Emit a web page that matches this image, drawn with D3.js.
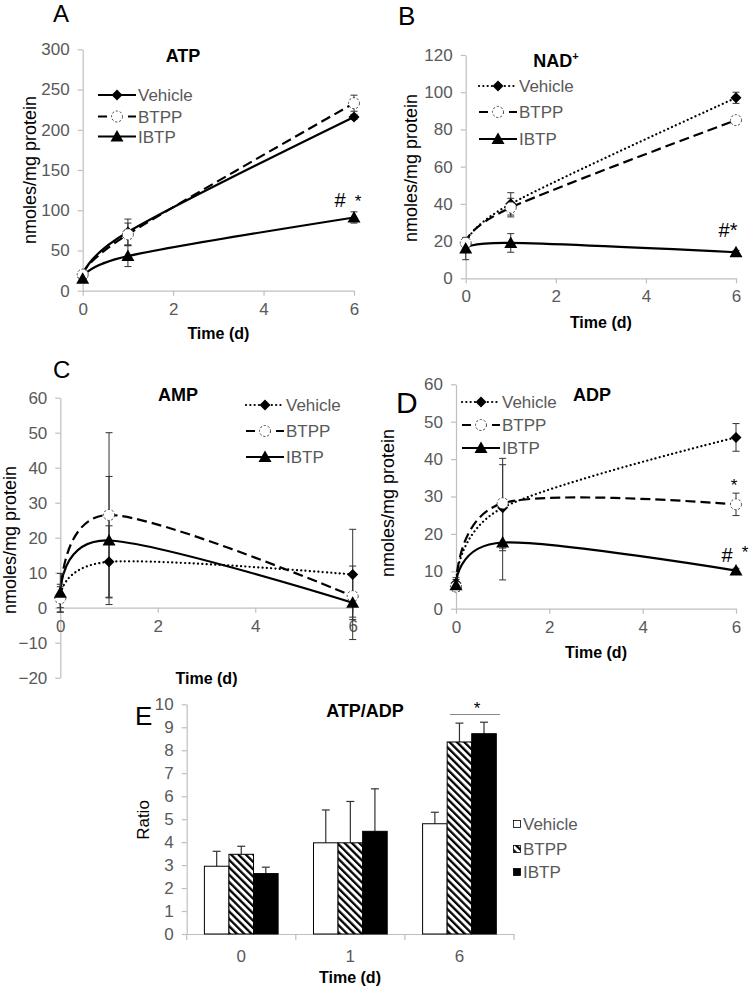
<!DOCTYPE html>
<html><head><meta charset="utf-8">
<script src="https://cdn.jsdelivr.net/npm/d3@7"></script>
<style>
body{margin:0;background:#fff}
svg{display:block}
text{font-family:"Liberation Sans",Arial,sans-serif}
</style>
</head><body>
<svg id="c" width="750" height="988"></svg>
<script>
// ---------------- data ----------------
const days = [0, 1, 6];
const seriesNames = ["Vehicle", "BTPP", "IBTP"];

const atpVehicle = [17, 73, 216],   atpVehicleErr = [3, 16, 3];
const atpBTPP    = [20, 70, 233],   atpBTPPErr    = [5, 14, 10];
const atpIBTP    = [15, 43, 91],    atpIBTPErr    = [2, 13, 7];

const nadVehicle = [18, 40, 97],    nadVehicleErr = [2, 6, 3];
const nadBTPP    = [19, 38, 85],    nadBTPPErr    = [2, 5, 2];
const nadIBTP    = [16, 19, 14],    nadIBTPErr    = [6, 5, 1];

const ampVehicle = [3.0, 13.1, 9.5],  ampVehicleErr = [3, 10.3, 12.9];
const ampBTPP    = [2.7, 26.5, 3.3],  ampBTPPErr    = [4, 23.5, 6];
const ampIBTP    = [4.3, 19.2, 1.4],  ampIBTPErr    = [5.5, 18.3, 10.5];

const adpVehicle = [6.8, 27.0, 45.8], adpVehicleErr = [1.5, 11.5, 3.7];
const adpBTPP    = [5.9, 28.2, 27.9], adpBTPPErr    = [1.2, 12, 3];
const adpIBTP    = [6.3, 17.7, 10.2], adpIBTPErr    = [1.5, 10, 0.6];

const ratioCategories = ["0", "1", "6"];
const ratioVehicle = [2.95, 3.97, 4.80], ratioVehicleErr = [0.65, 1.43, 0.50];
const ratioBTPP    = [3.47, 3.97, 8.36], ratioBTPPErr    = [0.35, 1.80, 0.82];
const ratioIBTP    = [2.63, 4.47, 8.72], ratioIBTPErr    = [0.28, 1.85, 0.50];

// ---------------- drawing ----------------
const svg = d3.select("#c");
const AXIS = "#bfbfbf", TICKTXT = "#595959";

const defs = svg.append("defs");
const pat = defs.append("pattern").attr("id","hatch").attr("patternUnits","userSpaceOnUse")
  .attr("width",5.2).attr("height",5.2).attr("patternTransform","rotate(-45)");
pat.append("rect").attr("width",5.2).attr("height",5.2).attr("fill","#fff");
pat.append("rect").attr("x",0).attr("width",2.3).attr("height",5.2).attr("fill","#000");

function styleAxis(sel){
  sel.select(".domain").attr("stroke",AXIS).attr("stroke-width",1.2);
  sel.selectAll(".tick line").attr("stroke",AXIS).attr("stroke-width",1.2);
  sel.selectAll(".tick text").attr("fill",TICKTXT).style("font-size","17px").style("font-family","'Liberation Sans',Arial,sans-serif");
}

function marker(g, type, cx, cy){
  if(type==="diamond"){
    g.append("path").attr("d",`M${cx},${cy-5.5}L${cx+5.5},${cy}L${cx},${cy+5.5}L${cx-5.5},${cy}Z`).attr("fill","#000");
  } else if(type==="triangle"){
    g.append("path").attr("d",`M${cx},${cy-6.5}L${cx+6.5},${cy+5}L${cx-6.5},${cy+5}Z`).attr("fill","#000");
  } else {
    g.append("circle").attr("cx",cx).attr("cy",cy).attr("r",5.5).attr("fill","#fff")
      .attr("stroke","#444").attr("stroke-width",1).attr("stroke-dasharray","2.2,1.8");
  }
}

const dashes = {solid:null, dashed:"10,5", dotted:"0.1,4.2"};
const markerTypes = ["diamond","circle","triangle"];

function linePanel(p){
  const g = svg.append("g");
  const x = d3.scaleLinear().domain([0,6]).range([p.x0,p.x1]);
  const y = d3.scaleLinear().domain(p.yDomain).range([p.yBot,p.yTop]);
  const ya = d3.axisLeft(y).tickValues(d3.range(p.yDomain[0], p.yDomain[1]+0.001, p.yStep))
     .tickSize(5).tickSizeOuter(0).tickPadding(8).tickFormat(d3.format("d"));
  g.append("g").attr("transform",`translate(${p.x0},0)`).call(ya).call(styleAxis);
  const xa = d3.axisBottom(x).tickValues([0,2,4,6]).tickSize(5).tickSizeOuter(0).tickPadding(7).tickFormat(d3.format("d"));
  g.append("g").attr("transform",`translate(0,${y(0)})`).call(xa).call(styleAxis);

  const line = d3.line().x((d,i)=>x(days[i])).y(d=>y(d)).curve(d3.curveCardinal.tension(0));
  p.series.forEach((s,k)=>{
    g.append("path").attr("d",line(s.vals)).attr("fill","none").attr("stroke","#000")
      .attr("stroke-width",2.2).attr("stroke-linecap",p.styles[k]==="dotted"?"round":"butt")
      .attr("stroke-dasharray",dashes[p.styles[k]]);
  });
  p.series.forEach((s)=>{
    s.vals.forEach((v,i)=>{
      const cx = x(days[i]), e = s.errs[i];
      g.append("line").attr("x1",cx).attr("x2",cx).attr("y1",y(v-e)).attr("y2",y(v+e)).attr("stroke","#333").attr("stroke-width",1);
      [v-e, v+e].forEach(w=>g.append("line").attr("x1",cx-3.5).attr("x2",cx+3.5).attr("y1",y(w)).attr("y2",y(w)).attr("stroke","#333").attr("stroke-width",1));
    });
  });
  p.series.forEach((s,k)=>{
    s.vals.forEach((v,i)=>marker(g, markerTypes[k], x(days[i]), y(v)));
  });
  // legend
  seriesNames.forEach((n,k)=>{
    const ly = p.legY[k];
    g.append("line").attr("x1",p.legX).attr("x2",p.legX+38).attr("y1",ly).attr("y2",ly)
      .attr("stroke","#000").attr("stroke-width",2.2).attr("stroke-linecap",p.styles[k]==="dotted"?"round":"butt")
      .attr("stroke-dasharray",p.styles[k]==="dashed"?"9,6":dashes[p.styles[k]]);
    marker(g, markerTypes[k], p.legX+19, ly);
    g.append("text").attr("x",p.legX+40).attr("y",ly).attr("dy","0.36em").attr("fill",TICKTXT)
      .style("font-size","17px").text(n);
  });
  // title
  const t = g.append("text").attr("x",p.titleX).attr("y",p.titleY).attr("text-anchor","middle")
    .style("font-size","18px").style("font-weight","bold").text(p.title);
  if(p.sup) t.append("tspan").attr("dy",-7).style("font-size","11px").text(p.sup);
  // letter
  g.append("text").attr("x",p.letterX).attr("y",p.letterY).style("font-size",p.letterSize+"px").text(p.letter);
  // axis labels
  g.append("text").attr("transform",`translate(${p.ylabX},${p.ylabY}) rotate(-90)`).attr("text-anchor","middle")
    .attr("dy","0.35em").style("font-size","18px").text("nmoles/mg protein");
  g.append("text").attr("x",(p.x0+p.x1)/2).attr("y",p.xlabY).attr("text-anchor","middle")
    .style("font-size","16px").style("font-weight","bold").text("Time (d)");
  (p.notes||[]).forEach(nt=>g.append("text").attr("x",nt.x).attr("y",nt.y).attr("text-anchor","middle")
    .style("font-size",nt.size+"px").text(nt.t));
}

linePanel({x0:82.7,x1:354,yTop:49.3,yBot:290.7,yDomain:[0,300],yStep:50,
  series:[{vals:atpVehicle,errs:atpVehicleErr},{vals:atpBTPP,errs:atpBTPPErr},{vals:atpIBTP,errs:atpIBTPErr}],
  styles:["solid","dashed","solid"], legX:98, legY:[95,116.5,136.5],
  title:"ATP", titleX:183, titleY:62, letter:"A", letterX:53, letterY:22, letterSize:24,
  ylabX:30, ylabY:170, xlabY:339,
  notes:[{t:"#",x:340,y:207,size:20},{t:"*",x:358,y:207,size:17}]});

linePanel({x0:465.7,x1:736,yTop:55,yBot:278.3,yDomain:[0,120],yStep:20,
  series:[{vals:nadVehicle,errs:nadVehicleErr},{vals:nadBTPP,errs:nadBTPPErr},{vals:nadIBTP,errs:nadIBTPErr}],
  styles:["dotted","dashed","solid"], legX:479, legY:[86,112,139],
  title:"NAD", sup:"+", titleX:556, titleY:67, letter:"B", letterX:398, letterY:25, letterSize:26,
  ylabX:411, ylabY:168, xlabY:328,
  notes:[{t:"#*",x:728,y:237,size:20}]});

linePanel({x0:60.3,x1:352.7,yTop:397.7,yBot:677.7,yDomain:[-20,60],yStep:10,
  series:[{vals:ampVehicle,errs:ampVehicleErr},{vals:ampBTPP,errs:ampBTPPErr},{vals:ampIBTP,errs:ampIBTPErr}],
  styles:["dotted","dashed","solid"], legX:246, legY:[405,431,457],
  title:"AMP", titleX:178, titleY:401, letter:"C", letterX:53, letterY:378, letterSize:24,
  ylabX:10, ylabY:540, xlabY:684});

linePanel({x0:456,x1:736,yTop:384.3,yBot:608.7,yDomain:[0,60],yStep:10,
  series:[{vals:adpVehicle,errs:adpVehicleErr},{vals:adpBTPP,errs:adpBTPPErr},{vals:adpIBTP,errs:adpIBTPErr}],
  styles:["dotted","dashed","solid"], legX:462, legY:[402,425,448],
  title:"ADP", titleX:592, titleY:401, letter:"D", letterX:396, letterY:413, letterSize:30,
  ylabX:388, ylabY:503, xlabY:658,
  notes:[{t:"*",x:734,y:491,size:17},{t:"#",x:727,y:562,size:20},{t:"*",x:745,y:558,size:17}]});

// ---------------- panel E ----------------
(function(){
  const g = svg.append("g");
  const x0 = 186.7, x1 = 514, yTop = 704.3, yBot = 934;
  const x = d3.scaleBand().domain(ratioCategories).range([x0,x1]).padding(0);
  const xs = d3.scaleBand().domain(seriesNames).range([0,x.bandwidth()]).paddingInner(0).paddingOuter(0.72);
  const y = d3.scaleLinear().domain([0,10]).range([yBot,yTop]);
  const ya = d3.axisLeft(y).tickValues(d3.range(0,11,1)).tickSize(5).tickSizeOuter(0).tickPadding(8);
  g.append("g").attr("transform",`translate(${x0},0)`).call(ya).call(styleAxis);
  const xa = d3.axisBottom(x).tickSize(0).tickPadding(16);
  const xg = g.append("g").attr("transform",`translate(0,${yBot})`).call(xa).call(styleAxis);
  [x0, x0+x.bandwidth(), x0+2*x.bandwidth(), x1].forEach(v=>
    xg.append("line").attr("x1",v).attr("x2",v).attr("y1",0).attr("y2",6).attr("stroke",AXIS).attr("stroke-width",1.2));

  const vals = [ratioVehicle, ratioBTPP, ratioIBTP];
  const errs = [ratioVehicleErr, ratioBTPPErr, ratioIBTPErr];
  const fills = ["#fff","url(#hatch)","#000"];
  ratioCategories.forEach((c,i)=>{
    seriesNames.forEach((s,k)=>{
      const bx = x(c)+xs(s), v = vals[k][i], e = errs[k][i], cx = bx + xs.bandwidth()/2;
      g.append("line").attr("x1",cx).attr("x2",cx).attr("y1",y(v)).attr("y2",y(v+e)).attr("stroke","#333").attr("stroke-width",1.2);
      g.append("line").attr("x1",cx-4).attr("x2",cx+4).attr("y1",y(v+e)).attr("y2",y(v+e)).attr("stroke","#333").attr("stroke-width",1.2);
      g.append("rect").attr("x",bx).attr("y",y(v)).attr("width",xs.bandwidth()).attr("height",yBot-y(v))
        .attr("fill",fills[k]).attr("stroke","#000").attr("stroke-width",1);
    });
  });
  // significance
  g.append("line").attr("x1",450).attr("x2",500).attr("y1",714.5).attr("y2",714.5).attr("stroke","#888").attr("stroke-width",1.2);
  g.append("text").attr("x",477).attr("y",714).attr("text-anchor","middle").style("font-size","17px").text("*");
  // legend
  seriesNames.forEach((s,k)=>{
    const ly = [824,849,872][k];
    g.append("rect").attr("x",513.5).attr("y",ly-3.5).attr("width",7).attr("height",7)
      .attr("fill",fills[k]).attr("stroke","#000").attr("stroke-width",0.8);
    g.append("text").attr("x",523).attr("y",ly).attr("dy","0.36em").attr("fill",TICKTXT).style("font-size","17px").text(s);
  });
  g.append("text").attr("x",365).attr("y",717).attr("text-anchor","middle").style("font-size","18px").style("font-weight","bold").text("ATP/ADP");
  g.append("text").attr("x",135).attr("y",725).style("font-size","26px").text("E");
  g.append("text").attr("transform","translate(143,820) rotate(-90)").attr("text-anchor","middle").attr("dy","0.35em").style("font-size","17px").text("Ratio");
  g.append("text").attr("x",350).attr("y",983).attr("text-anchor","middle").style("font-size","16px").style("font-weight","bold").text("Time (d)");
})();
</script>
</body></html>
